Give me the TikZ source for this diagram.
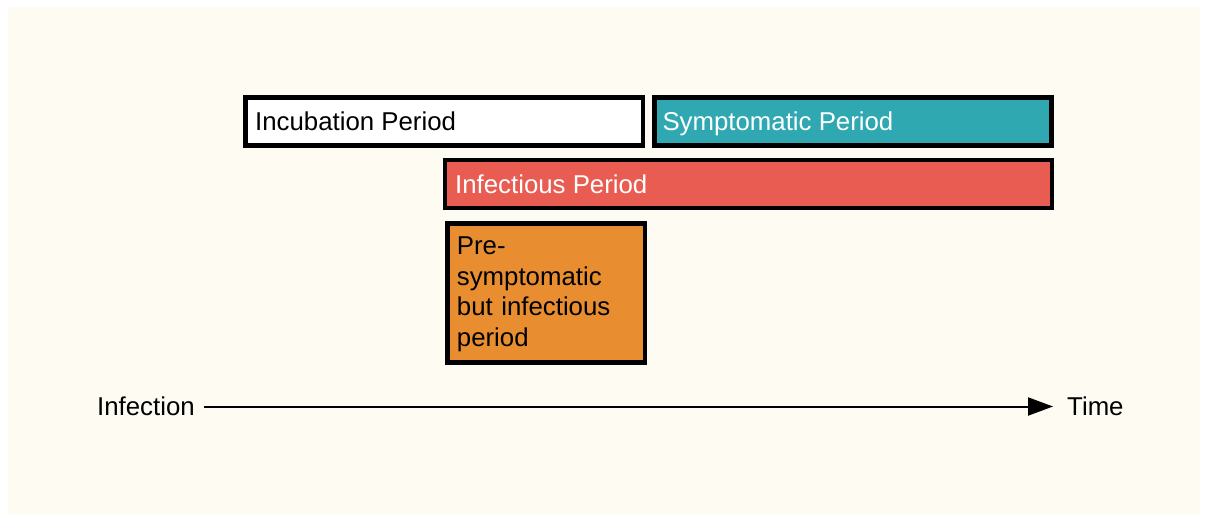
\documentclass[tikz,border=0pt]{standalone}
\usepackage{fontspec}
\setmainfont{Liberation Sans}
\usetikzlibrary{arrows.meta}
\definecolor{cream}{HTML}{FEFBF3}
\definecolor{teal}{HTML}{2FA8B1}
\definecolor{salmon}{HTML}{E85C51}
\definecolor{orangeb}{HTML}{E88E31}
\tikzset{
  period/.style={draw=black, line width=4.6pt, inner sep=0pt, outer sep=0pt, minimum height=48pt},
  lbl/.style={font=\fontsize{25.8}{30.4}\selectfont, inner sep=0pt, anchor=base west},
  axis/.style={line width=2pt, -{Triangle[length=25pt, width=18pt]}}
}
\begin{document}
\begin{tikzpicture}[x=1pt,y=-1pt]
\useasboundingbox (0,0) rectangle (1207,521);
\fill[cream] (8,7) rectangle (1200,515);
% boxes (outer edges)
\node[period, fill=white, minimum width=397.3pt, anchor=north west] (inc) at (245.6,97.3) {};
\node[period, fill=teal, minimum width=397.4pt, anchor=north west] (sym) at (654.3,97.3) {};
\node[period, fill=salmon, minimum width=606.9pt, anchor=north west] (inf) at (445,160) {};
\node[period, fill=orangeb, minimum width=197.7pt, minimum height=139.4pt, anchor=north west] (pre) at (447.3,223.3) {};
% labels
\node[lbl] (incl) at (255,130.7) {Incubation Period};
\node[lbl, text=white] (syml) at (662.3,130.7) {Symptomatic Period};
\node[lbl, text=white] (infl) at (455,193.3) {Infectious Period};
\node[lbl, align=left, anchor=north west, text width=180pt] (prel) at (456.7,237) {Pre-\\symptomatic\\but infectious\\period};
% axis
\node[lbl] (infection) at (97,415) {Infection};
\node[lbl] (time) at (1067,415) {Time};
\coordinate (a0) at (204,406.5);
\coordinate (a1) at (1053,406.5);
\draw[axis] (a0) -- (a1);
\end{tikzpicture}
\end{document}
